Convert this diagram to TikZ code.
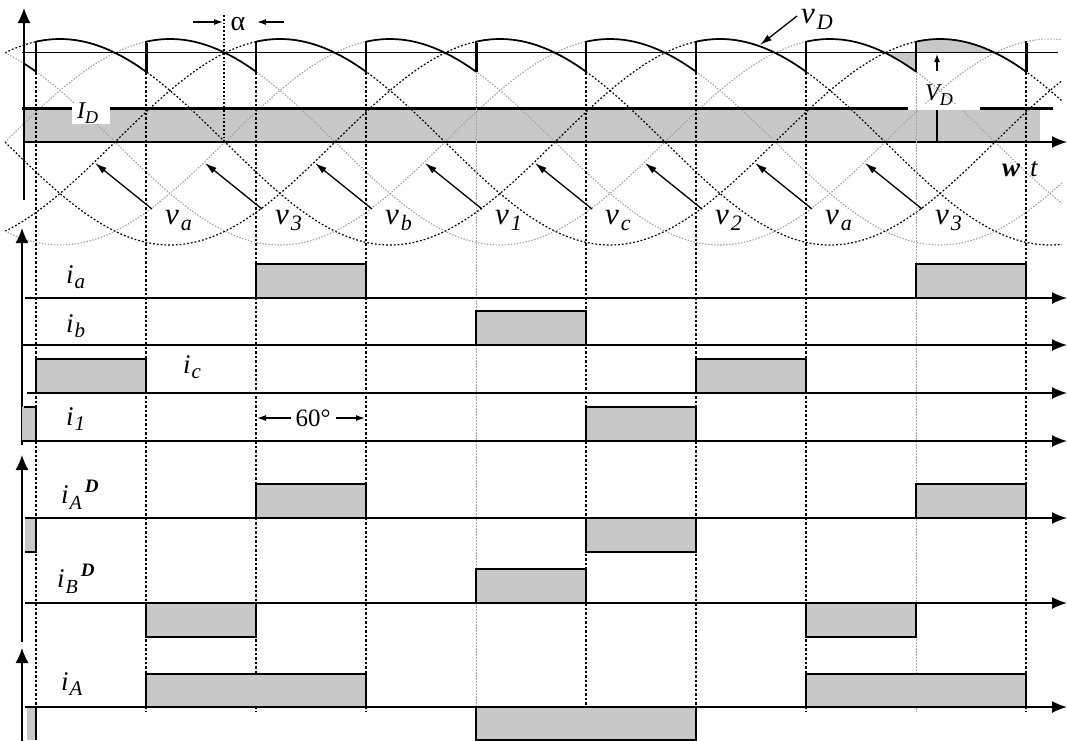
\documentclass[tikz,border=0pt]{standalone}
\usepackage{fontspec}
\setmainfont{Liberation Serif}
\usetikzlibrary{arrows.meta}
\definecolor{pulsegray}{RGB}{200,200,200}
\newcommand{\vlab}[2]{{\fontsize{31}{31}\selectfont\itshape #1}\kern2pt\raisebox{-6pt}{\fontsize{22}{22}\selectfont\itshape #2}}
\newcommand{\ilab}[2]{{\fontsize{27}{27}\selectfont\itshape #1}\kern1pt\raisebox{-5pt}{\fontsize{21}{21}\selectfont\itshape #2}}
\newcommand{\idlab}[2]{{\fontsize{27}{27}\selectfont\itshape #1}\kern1pt\raisebox{-6pt}{\fontsize{20}{20}\selectfont\itshape #2}\kern3pt\raisebox{11pt}{\fontsize{19}{19}\selectfont\bfseries\itshape D}}
\newcommand{\caplab}[2]{{\fontsize{24}{24}\selectfont\itshape #1}\raisebox{-5pt}{\fontsize{18}{18}\selectfont\itshape #2}}
\tikzset{
 wave/.style={line width=1.7pt, line join=round},
 blkdot/.style={line width=1.2pt, dash pattern=on 1.8pt off 2pt},
 grydot/.style={gray!75, line width=1.1pt, dash pattern=on 1.4pt off 1.6pt},
 comm/.style={line width=1.2pt, dash pattern=on 2.5pt off 2pt},
 commg/.style={gray!70, line width=1pt, dash pattern=on 1.5pt off 1.5pt},
 pulse/.style={fill=pulsegray, draw=black, line width=1.2pt},
 baseln/.style={line width=1.6pt, -{Latex[length=15pt,width=12pt]}},
 vaxis/.style={line width=1.2pt, -{Latex[length=15pt,width=13pt]}},
 lab/.style={inner sep=0pt, anchor=base west},
 dimarrow/.style={line width=1.2pt, -{Latex[length=9pt,width=6pt]}},
 pointer/.style={line width=1.3pt, -{Latex[length=12pt,width=7pt]}},
}
\begin{document}
\begin{tikzpicture}[x=1pt,y=-1pt]
\useasboundingbox (0,0) rectangle (1067,740);
% ---------------- top plot ----------------
\fill[pulsegray] (24,110) rectangle (1040,142);
\fill[pulsegray] (885,52) -- plot[domain=885:916,samples=20] (\x,{142-103*cos((\x-830)/660*360)})
  -- plot[domain=916:995,samples=30] (\x,{142-103*cos((\x-940)/660*360)}) -- cycle;
\foreach \m in {0,2,4}{\draw[blkdot] plot[domain=5:1062,samples=260,smooth] (\x,{142-103*cos((\x-60-110*\m)/660*360)});}
\foreach \m in {1,3,5}{\draw[grydot] plot[domain=5:1062,samples=260,smooth] (\x,{142-103*cos((\x-60-110*\m)/660*360)});}
% reference lines
\draw[line width=0.9pt] (22,52) -- (1058,52);
\draw[line width=3pt] (22,108) -- (1053,108);
\fill[white] (72,103) rectangle (110,124);
\fill[white] (908,104) rectangle (980,110);
\draw[baseln] (24,142) -- (1067,142);
\draw[vaxis] (24,200) -- (24,8);
% commutation lines
\foreach \j in {0,1,2,3,5,6,7,9}{\draw[comm] ({36+110*\j},72) -- ({36+110*\j},712);}
\foreach \j in {4,8}{\draw[commg] ({36+110*\j},72) -- ({36+110*\j},712);}
\draw[blkdot] (224,15) -- (224,142);
% v_D waveform
\draw[wave] plot[domain=24:36,samples=5] (\x,{142-103*cos((\x+50)/660*360)});
\foreach \j in {0,...,8}{
  \pgfmathsetmacro\xa{36+110*\j}\pgfmathsetmacro\xb{146+110*\j}\pgfmathsetmacro\pk{60+110*\j}
  \draw[wave] plot[domain=\xa:\xb,samples=30,smooth] (\x,{142-103*cos((\x-\pk)/660*360)});}
\foreach \j in {0,...,9}{\draw[wave] ({36+110*\j},71.6) -- ({36+110*\j},41.3);}
\foreach \j in {1,4,9}{\draw[line width=3pt] ({36+110*\j},72) -- ({36+110*\j},43);}
% labels top
\node[lab] (ID) at (77,118) {\caplab{I}{D}};
\node[lab] (VD) at (925,100) {\caplab{V}{D}};
\node[lab] (vD) at (801,23) {\vlab{v}{D}};
\node[lab] (wt) at (1002,176) {{\fontsize{27}{27}\selectfont\bfseries\itshape w}\kern10pt{\fontsize{27}{27}\selectfont\itshape t}};
\node[inner sep=0pt] (alpha) at (238,24) {\fontsize{28}{28}\selectfont α};
\coordinate (al1) at (193,22); \coordinate (al2) at (223,22);
\coordinate (ar1) at (284,22); \coordinate (ar2) at (257,22);
\draw[dimarrow] (al1) -- (al2);
\draw[dimarrow] (ar1) -- (ar2);
\coordinate (vDtail) at (797,16);
\coordinate (vDtip) at (760,45);
\draw[pointer] (vDtail) -- (vDtip);
\coordinate (VDa) at (937,71); \coordinate (VDb) at (937,54);
\draw[line width=1.2pt,-{Latex[length=8pt,width=6pt]}] (VDa) -- (VDb);
\draw[line width=1.2pt] (937,110) -- (937,142);
\foreach \k/\s in {0/a,1/3,2/b,3/1,4/c,5/2,6/a,7/3}{
  \node[lab] (v\k) at ({165+110*\k},224) {\vlab{v}{\s}};
  \coordinate (tail\k) at ({152+110*\k},209);
  \coordinate (tip\k) at ({95+110*\k},163);
  \draw[pointer] (tail\k) -- (tip\k);}
% ---------------- panel 2 ----------------
\draw[vaxis] (22,445) -- (22,228);
\filldraw[pulse] (256,264) rectangle (366,298);
\filldraw[pulse] (916,264) rectangle (1026,298);
\filldraw[pulse] (476,311) rectangle (586,345);
\filldraw[pulse] (36,359) rectangle (146,393);
\filldraw[pulse] (696,359) rectangle (806,393);
\fill[pulsegray] (22,407) rectangle (36,441);
\draw[line width=2pt] (24,407) -- (36,407) -- (36,441);
\filldraw[pulse] (586,407) rectangle (696,441);
\draw[baseln] (25,298) -- (1067,298);
\draw[baseln] (22,345) -- (1067,345);
\draw[baseln] (27,393) -- (1067,393);
\draw[baseln] (22,441) -- (1067,441);
\node[lab] (ia) at (66,283) {\ilab{i}{a}};
\node[lab] (ib) at (66,332) {\ilab{i}{b}};
\node[lab] (ic) at (183,373) {\ilab{i}{c}};
\node[lab] (i1) at (66,425) {\ilab{i}{1}};
\node[inner sep=0pt] (sixty) at (313,418) {\fontsize{25}{25}\selectfont 60°};
\coordinate (s1) at (291,418); \coordinate (s2) at (257,418);
\coordinate (s3) at (336,418); \coordinate (s4) at (365,418);
\draw[dimarrow] (s1) -- (s2);
\draw[dimarrow] (s3) -- (s4);
% ---------------- panel 3 ----------------
\draw[vaxis] (22,642) -- (22,455);
\filldraw[pulse] (256,484) rectangle (366,518);
\filldraw[pulse] (916,484) rectangle (1026,518);
\filldraw[pulse] (586,518) rectangle (696,552);
\fill[pulsegray] (25,518) rectangle (36,552);
\draw[line width=2pt] (25,552) -- (36,552) -- (36,518);
\filldraw[pulse] (476,569) rectangle (586,603);
\filldraw[pulse] (146,603) rectangle (256,637);
\filldraw[pulse] (806,603) rectangle (916,637);
\draw[baseln] (25,518) -- (1067,518);
\draw[baseln] (25,603) -- (1067,603);
\node[lab] (iAD) at (61,503) {\idlab{i}{A}};
\node[lab] (iBD) at (57,587) {\idlab{i}{B}};
% ---------------- panel 4 ----------------
\draw[vaxis] (22,742) -- (22,648);
\filldraw[pulse] (146,674) rectangle (366,707);
\filldraw[pulse] (806,674) rectangle (1026,707);
\filldraw[pulse] (476,707) rectangle (696,740);
\fill[pulsegray] (27,707) rectangle (36,740);
\draw[line width=2pt] (36,707) -- (36,740);
\draw[baseln] (25,707) -- (1067,707);
\node[lab] (iA) at (61,690) {\ilab{i}{A}};
\end{tikzpicture}
\end{document}
